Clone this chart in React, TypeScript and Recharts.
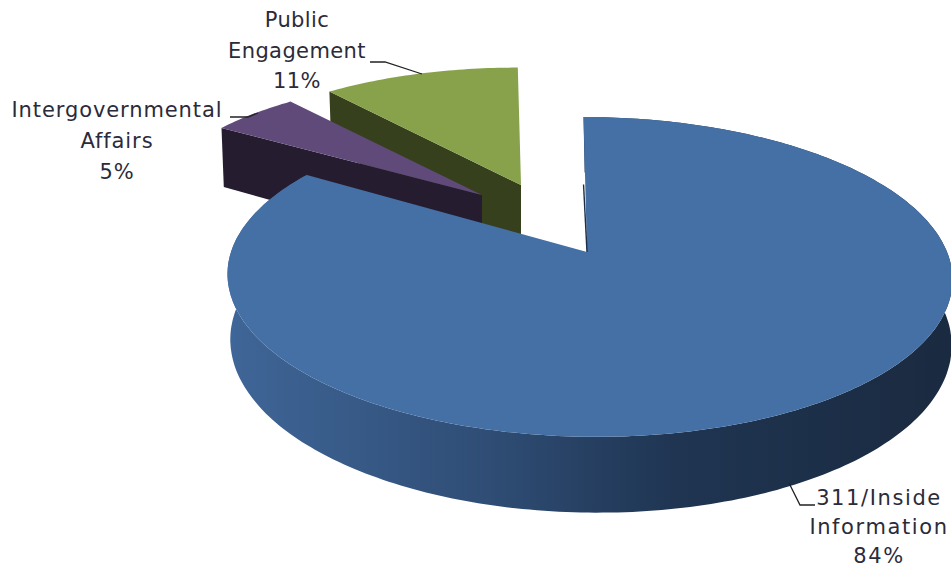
import { PieChart, Pie } from 'recharts'

const categories = ['Public Engagement', 'Intergovernmental Affairs', '311/Inside Information']
const shares = [11, 5, 84]
const labelLines = [['Public', 'Engagement'], ['Intergovernmental', 'Affairs'], ['311/Inside', 'Information']]

const data = categories.map((name, i) => ({ name, value: shares[i], lines: labelLines[i] }))

// tilted disc settings
const KEYSTONE = 0.156
const SQUASH = 156 / 358
const DEPTH = 64
const BOTTOM_SCALE = 0.995

const sliceStyle: Record<string, any> = {
  'Public Engagement': {
    top: '#87a24b', wall: '#36401c', offset: [-66, -67], sx: 0.93, sy: 0.87,
    label: [297, 27], step: 30.5, spacing: 0.4, leader: '370,62 385,62 422,74',
  },
  'Intergovernmental Affairs': {
    top: '#5f4a7a', wall: '#261c30', offset: [-105, -57], sx: 0.93, sy: 0.87,
    label: [117, 117], step: 31, spacing: 0.9, leader: '230,117 248,117 258,113',
  },
  '311/Inside Information': {
    top: '#4570a6', wall: 'url(#sideShade)', offset: [0, 0], sx: 1, sy: 1,
    label: [879, 505], step: 29, spacing: 1.6, leader: '789,483 800,505 815,505',
  },
}

const rad = (a: number) => (a * Math.PI) / 180

// disc point on the tilted plane, relative to the slice tip
function project(a: number, r: number) {
  const u = Math.cos(rad(a))
  const v = Math.sin(rad(a))
  const w = 1 + KEYSTONE * v
  return { x: (r * u - 6 * v + 2) / w, y: (-r * SQUASH * v) / w, w }
}

function toPath(points: number[][]) {
  return 'M' + points.map((p) => `${p[0].toFixed(1)},${p[1].toFixed(1)}`).join('L') + 'Z'
}

function Slice3D(props: any) {
  const { cx, cy, outerRadius, startAngle, endAngle, name } = props
  const s = sliceStyle[name]
  const tipX = cx + s.offset[0]
  const tipY = cy + s.offset[1]
  const steps = Math.max(8, Math.round(Math.abs(endAngle - startAngle)))
  const top: number[][] = []
  const bottom: number[][] = []
  for (let i = 0; i <= steps; i++) {
    const a = startAngle + ((endAngle - startAngle) * i) / steps
    const p = project(a, outerRadius)
    top.push([tipX + p.x * s.sx, tipY + p.y * s.sy])
    bottom.push([tipX + p.x * s.sx * BOTTOM_SCALE + 1, tipY + p.y * s.sy + DEPTH / p.w])
  }
  const last = top.length - 1
  const isMain = s.offset[0] === 0
  const inner = project(endAngle, outerRadius * 0.5)
  return (
    <g>
      <defs>
        <linearGradient id="sideShade" gradientUnits="userSpaceOnUse" x1="228" y1="0" x2="950" y2="0">
          <stop offset="0" stopColor="#3f6698" />
          <stop offset="0.36" stopColor="#2f4d75" />
          <stop offset="0.62" stopColor="#1f3552" />
          <stop offset="1" stopColor="#1a2a40" />
        </linearGradient>
      </defs>
      {isMain ? (
        <path d={toPath([...top, ...bottom.slice().reverse()])} fill={s.wall} />
      ) : (
        <path d={toPath([top[last], bottom[last], [tipX, tipY + DEPTH], [tipX, tipY]])} fill={s.wall} />
      )}
      <path d={toPath([[tipX, tipY], ...top])} fill={s.top} />
      {isMain ? (
        <line x1={tipX + inner.x} y1={tipY + inner.y} x2={tipX} y2={tipY} stroke="#1c2d45" strokeWidth={1.4} />
      ) : null}
    </g>
  )
}

function SliceLabel(props: any) {
  const s = sliceStyle[props.name]
  const lines = [...props.payload.lines, `${props.value}%`]
  return (
    <g>
      <polyline points={s.leader} fill="none" stroke="#222" strokeWidth={1.3} />
      <text textAnchor="middle" fontFamily="DejaVu Sans" fontSize={21} letterSpacing={s.spacing} fill="#2b2b3a">
        {lines.map((t: string, i: number) => (
          <tspan key={t} x={s.label[0]} y={s.label[1] + i * s.step}>{t}</tspan>
        ))}
      </text>
    </g>
  )
}

export default function App() {
  return (
    <div style={{ position: 'absolute', left: 0, top: 0, background: '#fff' }}>
      <PieChart width={951} height={569} margin={{ top: 0, right: 0, bottom: 0, left: 0 }}>
        <Pie
          data={data}
          dataKey="value"
          nameKey="name"
          cx={587}
          cy={252}
          innerRadius={0}
          outerRadius={358}
          startAngle={90}
          endAngle={450}
          stroke="none"
          shape={Slice3D}
          label={SliceLabel}
          labelLine={false}
          isAnimationActive={false}
        />
      </PieChart>
    </div>
  )
}
